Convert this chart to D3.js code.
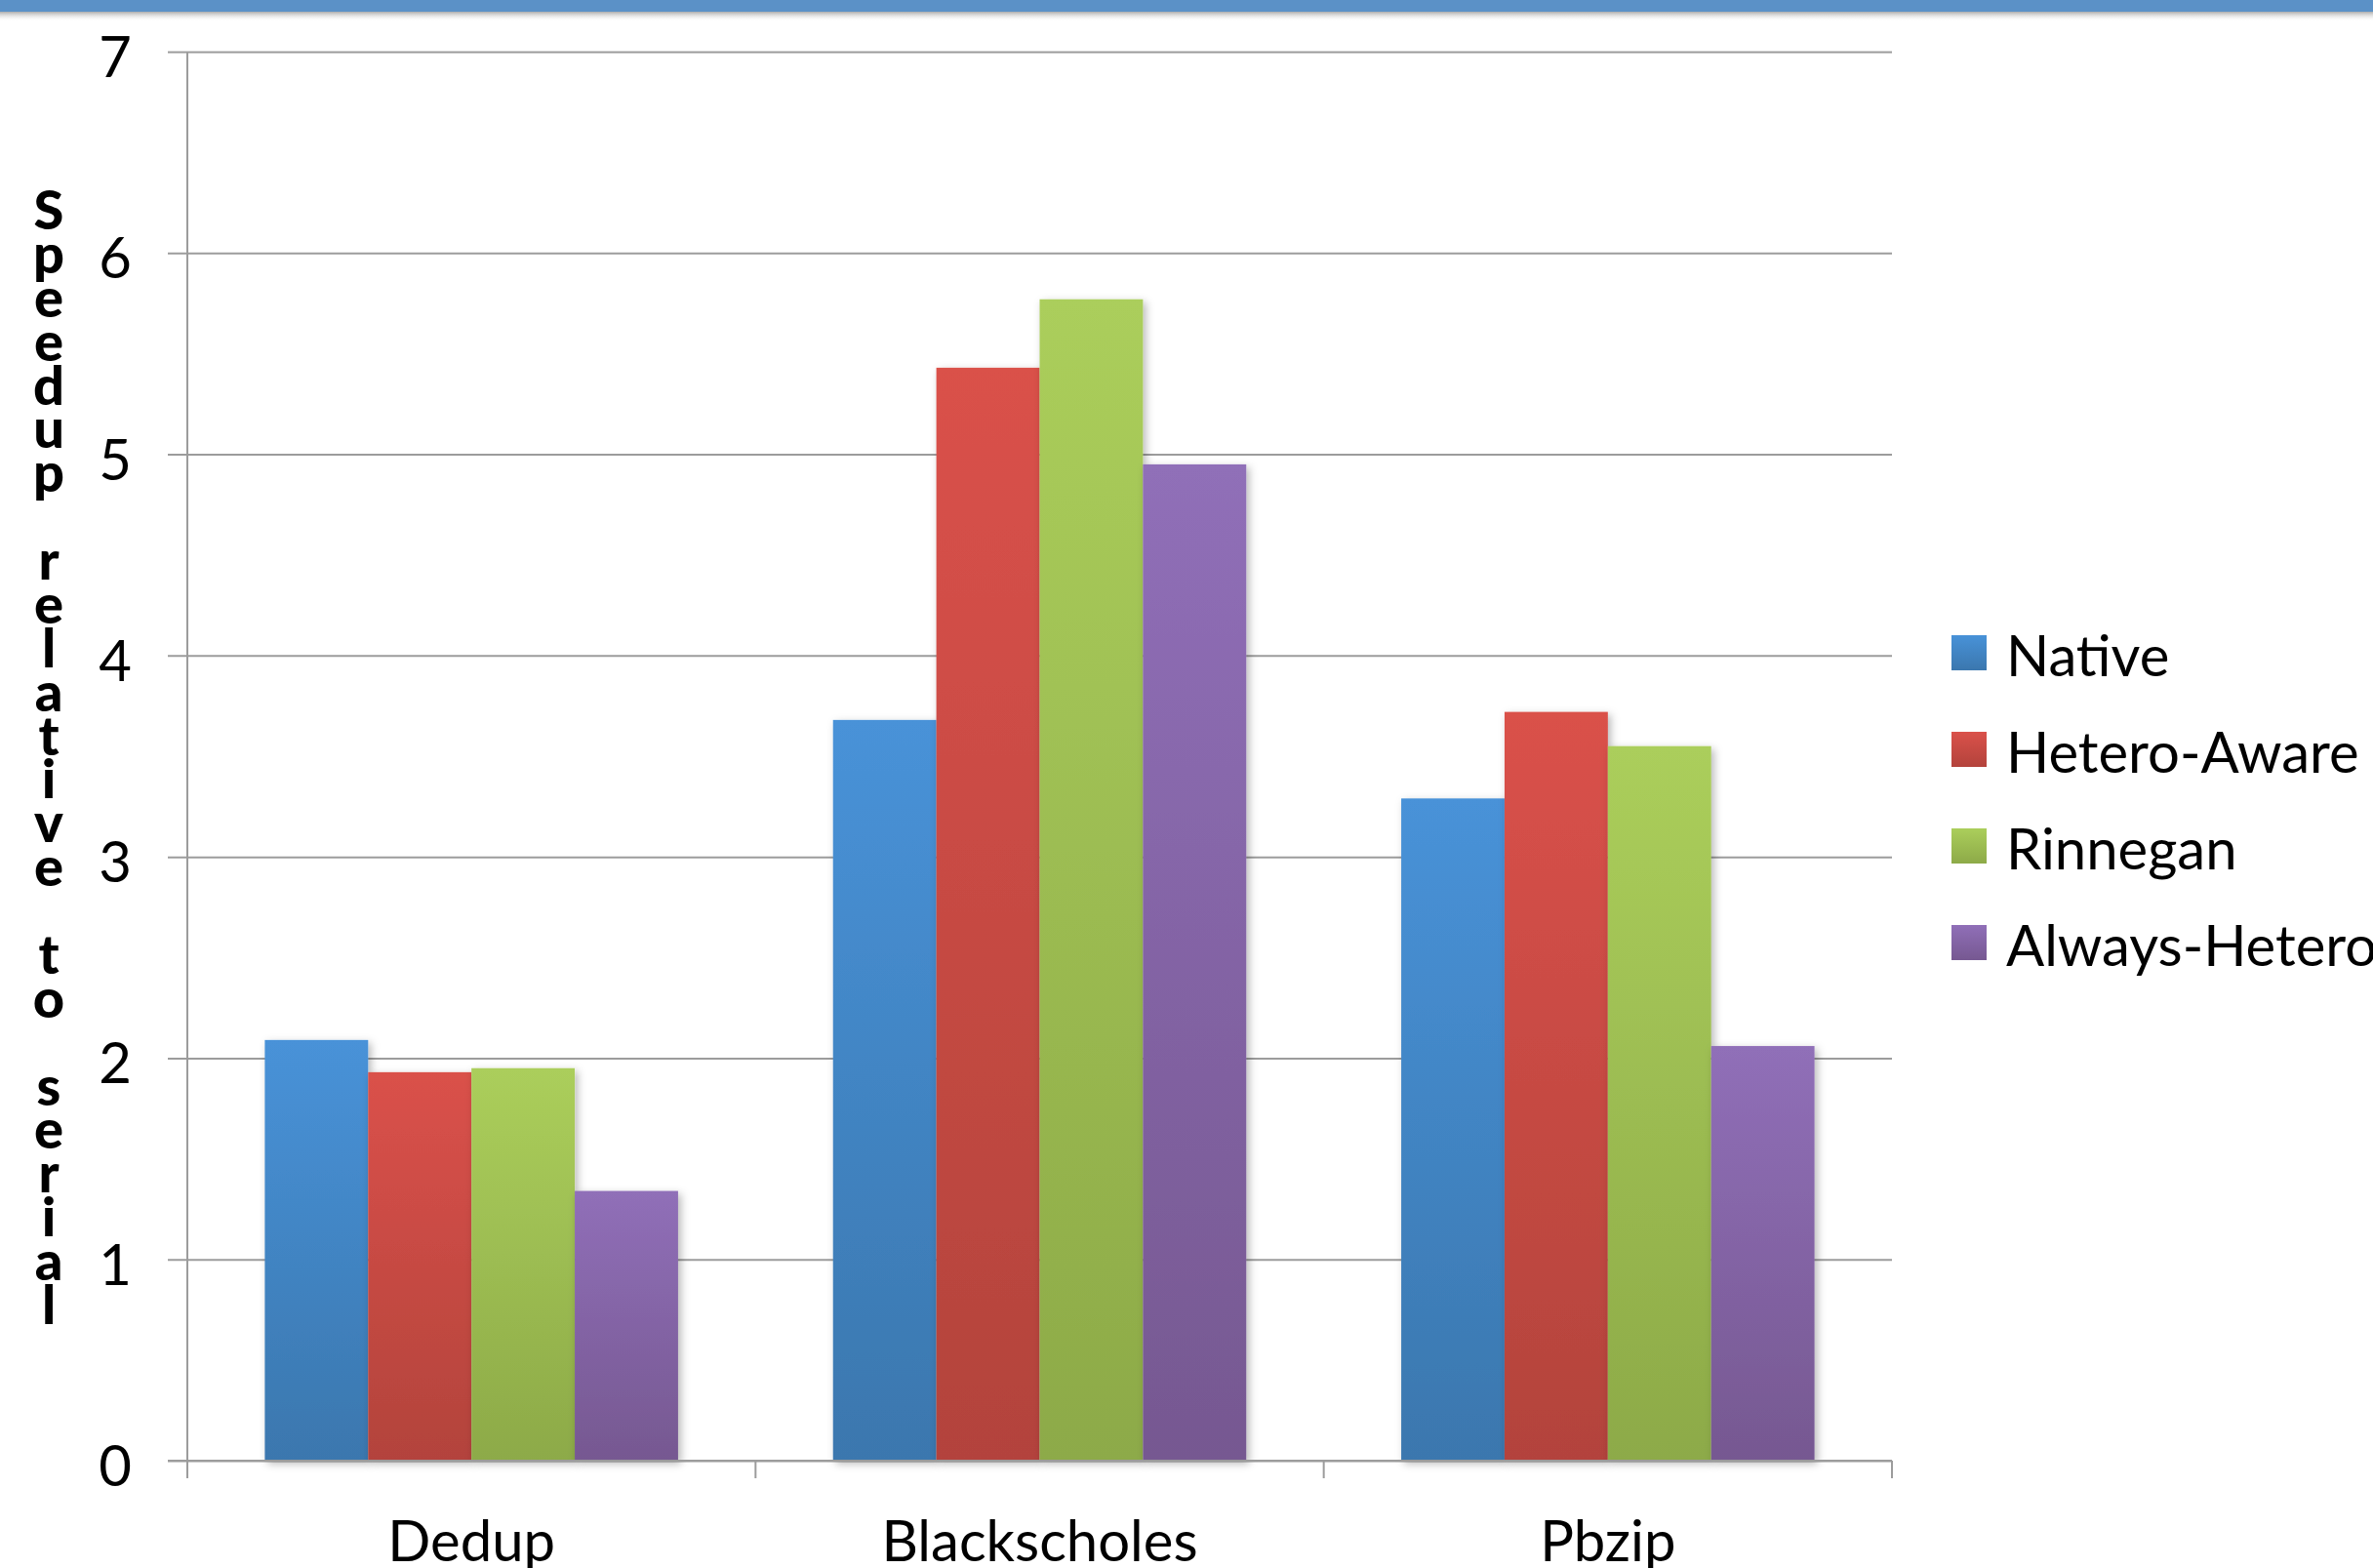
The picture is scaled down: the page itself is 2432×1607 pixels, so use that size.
<!DOCTYPE html>
<html>
<head>
<meta charset="utf-8">
<script src="https://cdn.jsdelivr.net/npm/d3@7"></script>
<style>
  body { margin: 0; background: #fff; }
  text { font-family: Lato, "Open Sans", sans-serif; }
</style>
</head>
<body>
<svg id="vis"></svg>
<script>
// chart data
const categories = ["Dedup", "Blackscholes", "Pbzip"];
const series = ["Native", "Hetero-Aware", "Rinnegan", "Always-Hetero"];
const native = [2.09, 3.68, 3.29];
const heteroAware = [1.93, 5.43, 3.72];
const rinnegan = [1.95, 5.77, 3.55];
const alwaysHetero = [1.34, 4.95, 2.06];
const yTicks = [0, 1, 2, 3, 4, 5, 6, 7];
const yTitle = "Speedup relative to serial";

const values = [native, heteroAware, rinnegan, alwaysHetero];

// pixel sizes
const width = 2432;
const height = 1607;
const plot = {left: 192, right: 1939, top: 53, bottom: 1497};

// gradient colours (top, bottom) per series
const colors = [
  ["#4892d8", "#3b77ae"],
  ["#da514a", "#b3433c"],
  ["#abce5b", "#8daa48"],
  ["#906fb8", "#765891"]
];

const svg = d3.select("#vis")
  .attr("width", width)
  .attr("height", height);

const defs = svg.append("defs");
colors.forEach((c, i) => {
  const g = defs.append("linearGradient")
    .attr("id", "grad" + i)
    .attr("x1", 0).attr("y1", 0).attr("x2", 0).attr("y2", 1);
  g.append("stop").attr("offset", "0%").attr("stop-color", c[0]);
  g.append("stop").attr("offset", "100%").attr("stop-color", c[1]);
});
defs.append("filter").attr("id", "shadow")
  .attr("x", "-20%").attr("y", "-20%").attr("width", "140%").attr("height", "140%")
  .append("feDropShadow")
  .attr("dx", 3).attr("dy", 3).attr("stdDeviation", 4)
  .attr("flood-color", "#000").attr("flood-opacity", 0.28);

// top band of the slide
const band = defs.append("linearGradient").attr("id", "bandShadow")
  .attr("x1", 0).attr("y1", 0).attr("x2", 0).attr("y2", 1);
band.append("stop").attr("offset", "0%").attr("stop-color", "#999").attr("stop-opacity", 0.8);
band.append("stop").attr("offset", "100%").attr("stop-color", "#fff").attr("stop-opacity", 0);
svg.append("rect").attr("x", 0).attr("y", 12).attr("width", width).attr("height", 10)
  .attr("fill", "url(#bandShadow)");
svg.append("rect").attr("x", 0).attr("y", 0).attr("width", width).attr("height", 12)
  .attr("fill", "#5b91c7");

// scales
const yScale = d3.scaleLinear().domain([0, 7]).range([plot.bottom, plot.top]);
const x0 = d3.scaleBand().domain(categories).range([plot.left, plot.right]).padding(0);
const gap = x0.bandwidth() * 0.75 / 5.5;
const x1 = d3.scaleBand().domain(series).range([gap, x0.bandwidth() - gap]).padding(0);

// gridlines (drawn from the right edge back past the axis, as tick marks)
const yAxis = d3.axisLeft(yScale).tickValues(yTicks)
  .tickSize(plot.right - plot.left + 20).tickFormat("");
const gy = svg.append("g")
  .attr("transform", "translate(" + plot.right + ",0)")
  .call(yAxis);
gy.select(".domain").remove();
gy.selectAll(".tick line").attr("stroke", "#9c9c9c").attr("stroke-width", 2);

svg.append("g").selectAll("text")
  .data(yTicks)
  .join("text")
  .attr("x", 135)
  .attr("y", d => yScale(d) + 26)
  .attr("text-anchor", "end")
  .attr("font-size", 58)
  .attr("fill", "#000")
  .text(d => d);

svg.append("line")
  .attr("x1", plot.left).attr("x2", plot.left)
  .attr("y1", plot.top).attr("y2", plot.bottom + 18)
  .attr("stroke", "#9c9c9c").attr("stroke-width", 2);

// bars
const groups = svg.append("g").selectAll("g")
  .data(categories)
  .join("g")
  .attr("transform", d => "translate(" + x0(d) + ",0)");

groups.selectAll("rect")
  .data((c, ci) => series.map((s, si) => ({s: s, si: si, v: values[si][ci]})))
  .join("rect")
  .attr("x", d => x1(d.s))
  .attr("y", d => yScale(d.v))
  .attr("width", x1.bandwidth())
  .attr("height", d => yScale(0) - yScale(d.v))
  .attr("fill", d => "url(#grad" + d.si + ")")
  .attr("filter", "url(#shadow)");

// x axis with category boundary ticks
const xBounds = categories.map(c => x0(c)).concat([plot.right]);
svg.append("line")
  .attr("x1", plot.left - 20).attr("x2", plot.right)
  .attr("y1", plot.bottom).attr("y2", plot.bottom)
  .attr("stroke", "#9c9c9c").attr("stroke-width", 2);
svg.append("g").selectAll("line")
  .data(xBounds)
  .join("line")
  .attr("x1", d => d).attr("x2", d => d)
  .attr("y1", plot.bottom).attr("y2", plot.bottom + 18)
  .attr("stroke", "#9c9c9c").attr("stroke-width", 2);

svg.append("g").selectAll("text")
  .data(categories)
  .join("text")
  .attr("x", d => x0(d) + x0.bandwidth() / 2)
  .attr("y", 1600)
  .attr("text-anchor", "middle")
  .attr("font-size", 58)
  .text(d => d);

// y title, letters stacked vertically
const chars = yTitle.split("");
const firstBase = 235, lastBase = 1357;
const step = (lastBase - firstBase) / (chars.length - 1);
svg.append("g").selectAll("text")
  .data(chars)
  .join("text")
  .attr("x", 50)
  .attr("y", (d, i) => firstBase + step * i)
  .attr("text-anchor", "middle")
  .attr("font-weight", 900)
  .attr("font-size", 56)
  .text(d => d);

// legend
const legend = svg.append("g").selectAll("g")
  .data(series)
  .join("g")
  .attr("transform", (d, i) => "translate(2000," + (651 + i * 99) + ")");
legend.append("rect")
  .attr("width", 36).attr("height", 36)
  .attr("fill", (d, i) => "url(#grad" + i + ")");
legend.append("text")
  .attr("x", 56).attr("y", 42)
  .attr("font-size", 58)
  .text(d => d);
</script>
</body>
</html>
